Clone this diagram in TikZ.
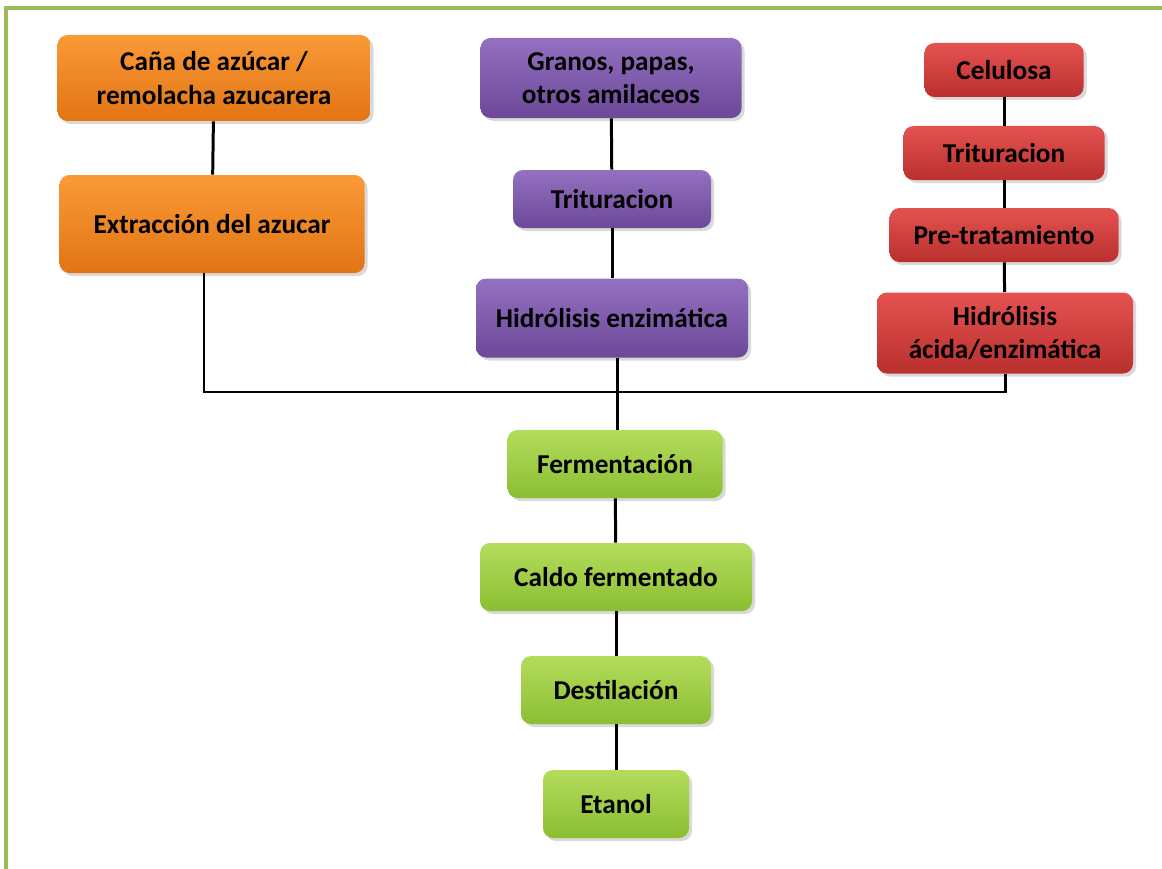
\documentclass[tikz,border=0pt]{standalone}
\usepackage{fontspec}
\setmainfont{Carlito}
\usepackage{xcolor}
\definecolor{frameGreen}{HTML}{9BBB59}
\definecolor{caneTop}{HTML}{FA9A36}
\definecolor{caneBot}{HTML}{E27414}
\definecolor{starchTop}{HTML}{9470C0}
\definecolor{starchBot}{HTML}{6C4898}
\definecolor{celluTop}{HTML}{E45250}
\definecolor{celluBot}{HTML}{B9302E}
\definecolor{commonTop}{HTML}{B4DC5C}
\definecolor{commonBot}{HTML}{8BBE32}
\usetikzlibrary{shadows,calc}
\tikzset{
    basic/.style={
        rectangle,
        rounded corners=2mm,
        align=center,
        inner sep=2pt,
        drop shadow={opacity=0.3, shadow xshift=0.6mm, shadow yshift=-0.6mm},
        font=\fontsize{15.5}{19}\selectfont\bfseries
    },
    cane/.style={basic, top color=caneTop, bottom color=caneBot},
    starch/.style={basic, top color=starchTop, bottom color=starchBot},
    cellu/.style={basic, top color=celluTop, bottom color=celluBot},
    common/.style={basic, top color=commonTop, bottom color=commonBot},
    link/.style={
        line width=1.7pt,
        color=black
    }
}
\begin{document}
\begin{tikzpicture}
    \useasboundingbox (0,0) rectangle (23.24,-17.38);
    % frame
    \draw[frameGreen, line width=1.8pt] (0.12,-17.38) -- (0.12,-0.16) -- (23.24,-0.16);

    % sugar route
    \node[cane, minimum width=6.26cm, minimum height=1.72cm] (cana) at (4.28,-1.56)
        {Caña de azúcar /\\remolacha azucarera};
    \node[cane, minimum width=6.10cm, minimum height=1.96cm] (extr) at (4.24,-4.48)
        {Extracción del azucar};

    % starch route
    \node[starch, minimum width=5.22cm, minimum height=1.60cm] (gran) at (12.22,-1.56)
        {Granos, papas,\\otros amilaceos};
    \node[starch, minimum width=3.96cm, minimum height=1.16cm] (trip) at (12.24,-3.98)
        {Trituracion};
    \node[starch, minimum width=5.44cm, minimum height=1.58cm] (hidp) at (12.24,-6.36)
        {Hidrólisis enzimática};

    % cellulose route
    \node[cellu, minimum width=3.18cm, minimum height=1.08cm] (celu) at (20.08,-1.40)
        {Celulosa};
    \node[cellu, minimum width=4.02cm, minimum height=1.08cm] (trir) at (20.08,-3.06)
        {Trituracion};
    \node[cellu, minimum width=4.58cm, minimum height=1.08cm] (pret) at (20.08,-4.70)
        {Pre-tratamiento};
    \node[cellu, minimum width=5.12cm, minimum height=1.62cm] (hidr) at (20.10,-6.66)
        {Hidrólisis\\ácida/enzimática};

    % common route
    \node[common, minimum width=4.30cm, minimum height=1.36cm] (ferm) at (12.30,-9.28)
        {Fermentación};
    \node[common, minimum width=5.44cm, minimum height=1.36cm] (cald) at (12.32,-11.54)
        {Caldo fermentado};
    \node[common, minimum width=3.80cm, minimum height=1.36cm] (dest) at (12.32,-13.80)
        {Destilación};
    \node[common, minimum width=2.92cm, minimum height=1.36cm] (etan) at (12.32,-16.08)
        {Etanol};

    % connectors
    \coordinate (bus) at (0,-7.84);
    \coordinate (extrOut) at ($(extr.south)+(-0.16,0)$);
    \draw[link] (cana) -- (extr);
    \draw[link] (gran) -- (trip);
    \draw[link] (trip) -- (hidp);
    \draw[link] (celu) -- (trir);
    \draw[link] (trir) -- (pret);
    \draw[link] (pret) -- (hidr);
    \draw[link] (extrOut) -- (extrOut |- bus) -- (hidr.south |- bus) -- (hidr.south);
    \draw[link] ($(hidp.south)+(0.1,0)$) -- ($(hidp.south |- ferm.north)+(0.1,0)$);
    \draw[link] (ferm) -- (cald);
    \draw[link] (cald) -- (dest);
    \draw[link] (dest) -- (etan);
\end{tikzpicture}
\end{document}
